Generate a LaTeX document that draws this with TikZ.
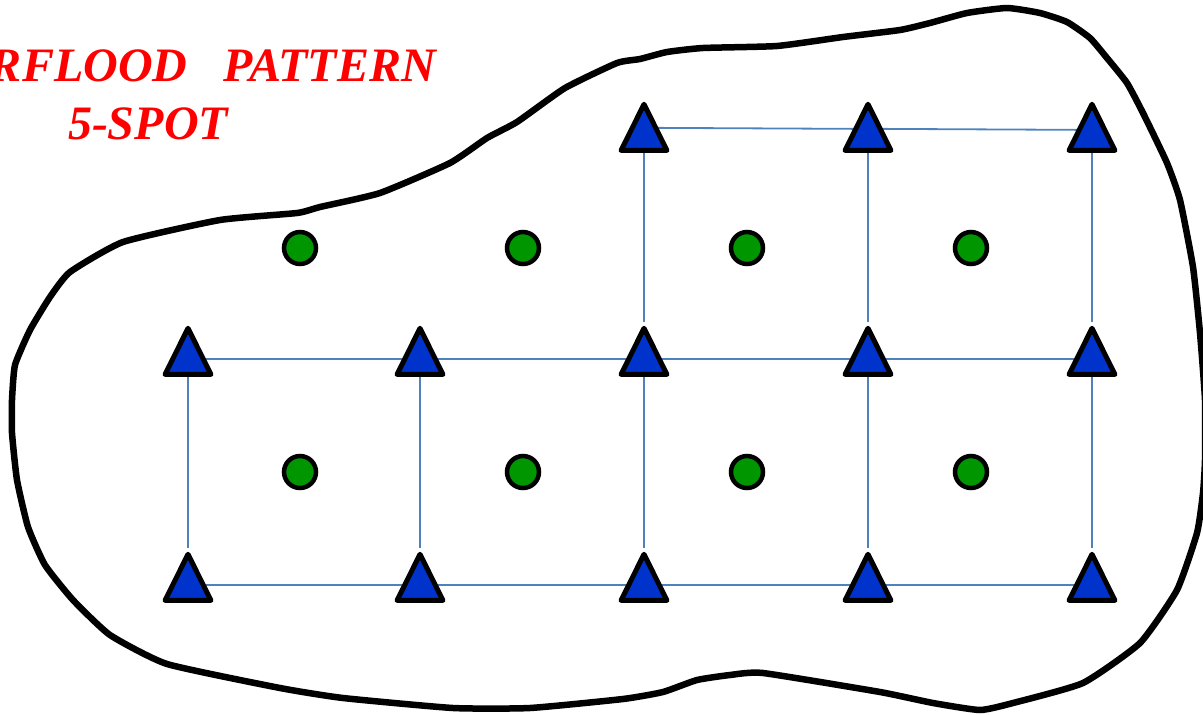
\documentclass[tikz,border=0pt]{standalone}
\usepackage{fontspec}
\setmainfont{Liberation Serif}
\usetikzlibrary{shapes.geometric,backgrounds}
\definecolor{injblue}{RGB}{0,51,204}
\definecolor{prodgreen}{RGB}{0,150,0}
\definecolor{gridblue}{RGB}{79,129,189}
\begin{document}
\begin{tikzpicture}[x=1pt,y=-1pt,
  inj/.style={regular polygon, regular polygon sides=3, minimum size=53, inner sep=0pt,
    yscale=1.16, transform shape, draw=black, fill=injblue, line width=5pt, line join=round},
  prod/.style={circle, minimum size=32, inner sep=0pt, draw=black, fill=prodgreen, line width=4.5pt},
  grid/.style={gridblue, line width=1.8pt},
  title/.style={font=\fontsize{48}{58}\selectfont\bfseries\itshape, text=red, inner sep=0pt}]
\useasboundingbox (0,0) rectangle (1203,715);
\clip (0,0) rectangle (1203,715);
\draw[line width=6.5pt, line join=round] plot[smooth cycle, tension=0.3] coordinates {
  (297,213) (320,207) (380,193) (450,163) (487,138) (517,122) (565,88) (617,63) (640,59)
  (667,52) (703,48) (777,46) (843,37) (900,30) (930,23) (967,13) (1007,8) (1040,13)
  (1067,22) (1090,38) (1107,58) (1127,83) (1143,113) (1167,163) (1180,200) (1193,267)
  (1200,333) (1205,400) (1205,460) (1203,493) (1197,533) (1177,590) (1140,643) (1083,683)
  (1013,703) (980,710) (933,703) (880,692) (763,673) (730,675) (697,680) (663,692)
  (623,699) (530,708) (453,708) (343,698) (280,688) (167,664) (110,635) (73,600)
  (45,565) (28,527) (17,480) (12,433) (12,400) (15,365) (30,330) (50,297) (70,272)
  (123,242) (220,220)};
\node[title, anchor=base east] (ttl) at (436,81) {RFLOOD~~~PATTERN};
\node[title, anchor=base] (sub) at (148,139) {5-SPOT};
\node[inj] (t13) at (644,135) {};
\node[inj] (t14) at (868,135) {};
\node[inj] (t15) at (1092,135) {};
\node[inj] (t21) at (188,359) {};
\node[inj] (t22) at (420,359) {};
\node[inj] (t23) at (644,359) {};
\node[inj] (t24) at (868,359) {};
\node[inj] (t25) at (1092,359) {};
\node[inj] (t31) at (188,585) {};
\node[inj] (t32) at (420,585) {};
\node[inj] (t33) at (644,585) {};
\node[inj] (t34) at (868,585) {};
\node[inj] (t35) at (1092,585) {};
\node[prod] (p11) at (300,248) {};
\node[prod] (p12) at (523,248) {};
\node[prod] (p13) at (747,248) {};
\node[prod] (p14) at (971,248) {};
\node[prod] (p21) at (300,472) {};
\node[prod] (p22) at (523,472) {};
\node[prod] (p23) at (747,472) {};
\node[prod] (p24) at (971,472) {};
\begin{scope}[on background layer]
\draw[grid] ([yshift=-2]t13.side 3) -- ([yshift=-3]t14.side 1);
\draw[grid] ([yshift=-3]t14.side 3) -- ([yshift=-4]t15.side 1);
\draw[grid] (t21) -- (t22) -- (t23) -- (t24) -- (t25);
\draw[grid] (t31) -- (t32) -- (t33) -- (t34) -- (t35);
\draw[grid] (t13) -- (t23) -- (t33);
\draw[grid] (t14) -- (t24) -- (t34);
\draw[grid] (t15) -- (t25) -- (t35);
\draw[grid] (t21) -- (t31);
\draw[grid] (t22) -- (t32);
\end{scope}
\end{tikzpicture}
\end{document}
